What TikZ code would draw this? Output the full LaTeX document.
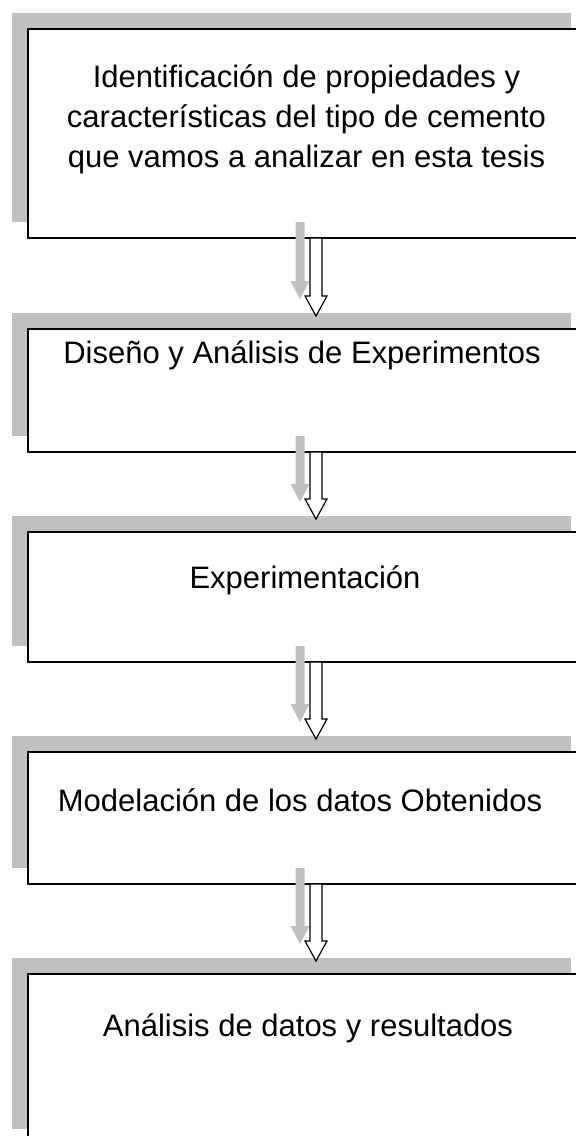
\documentclass[tikz,border=0pt]{standalone}
\usepackage{fontspec}
\setmainfont{Liberation Sans}
\usetikzlibrary{calc}
\definecolor{shgray}{RGB}{192,192,192}
\tikzset{
  shadowbox/.style={rectangle, fill=shgray, draw=none, minimum width=559pt, inner sep=0pt, outer sep=0pt, anchor=north west},
  mainbox/.style={rectangle, fill=white, draw=black, line width=2pt, minimum width=559pt, inner sep=0pt, outer sep=0pt, anchor=north west},
  boxtext/.style={font=\fontsize{31}{40}\selectfont, inner sep=0pt, align=center},
  grayarrow/.style={fill=shgray, draw=none},
  hollowarrow/.style={fill=white, draw=black, line width=1.2pt, line join=miter},
}
\newcommand\grayarr[2]{%
  \path[grayarrow] let \p1=(#1.south), \p2=(#2.north) in
    (\x1+4pt,\y1) -- (\x1+13pt,\y1) -- (\x1+13pt,\y2+32pt) -- (\x1+18pt,\y2+32pt)
    -- (\x1+8.5pt,\y2+14pt) -- (\x1-1pt,\y2+32pt) -- (\x1+4pt,\y2+32pt) -- cycle;}
\newcommand\hollowarr[2]{%
  \path[hollowarrow] let \p1=(#1.south), \p2=(#2.north) in
    (\x1+2.5pt,\y1) -- (\x1+14.5pt,\y1) -- (\x1+14.5pt,\y2+33pt) -- (\x1+19.5pt,\y2+33pt)
    -- (\x1+8.5pt,\y2+13pt) -- (\x1-2.5pt,\y2+33pt) -- (\x1+2.5pt,\y2+33pt) -- cycle;}
\begin{document}
\begin{tikzpicture}[x=1pt,y=-1pt]
\useasboundingbox (0,0) rectangle (576,1136);
\fill[white] (0,0) rectangle (576,1136);
% boxes
\node[shadowbox, minimum height=209pt] (s1) at (12,13) {};
\node[mainbox, minimum height=209pt] (b1) at (28,29) {};
\node[shadowbox, minimum height=123pt] (s2) at (12,313) {};
\node[mainbox, minimum height=123pt] (b2) at (28,329) {};
\node[shadowbox, minimum height=130pt] (s3) at (12,516) {};
\node[mainbox, minimum height=130pt] (b3) at (28,532) {};
\node[shadowbox, minimum height=132pt] (s4) at (12,736) {};
\node[mainbox, minimum height=132pt] (b4) at (28,752) {};
\node[shadowbox, minimum height=171pt] (s5) at (12,958) {};
\node[mainbox, minimum height=171pt] (b5) at (28,974) {};
% texts
\node[boxtext, anchor=center] (t1) at (306.5,119.5) {Identificación de propiedades y\\características del tipo de cemento\\que vamos a analizar en esta tesis};
\node[boxtext, anchor=base] (t2) at (302,363) {Diseño y Análisis de Experimentos};
\node[boxtext, anchor=base] (t3) at (305,588) {Experimentación};
\node[boxtext, anchor=base] (t4) at (300,811) {Modelación de los datos Obtenidos};
\node[boxtext, anchor=base] (t5) at (308,1036) {Análisis de datos y resultados};
% arrows
\grayarr{s1}{s2}
\hollowarr{b1}{b2}
\grayarr{s2}{s3}
\hollowarr{b2}{b3}
\grayarr{s3}{s4}
\hollowarr{b3}{b4}
\grayarr{s4}{s5}
\hollowarr{b4}{b5}
\end{tikzpicture}
\end{document}
